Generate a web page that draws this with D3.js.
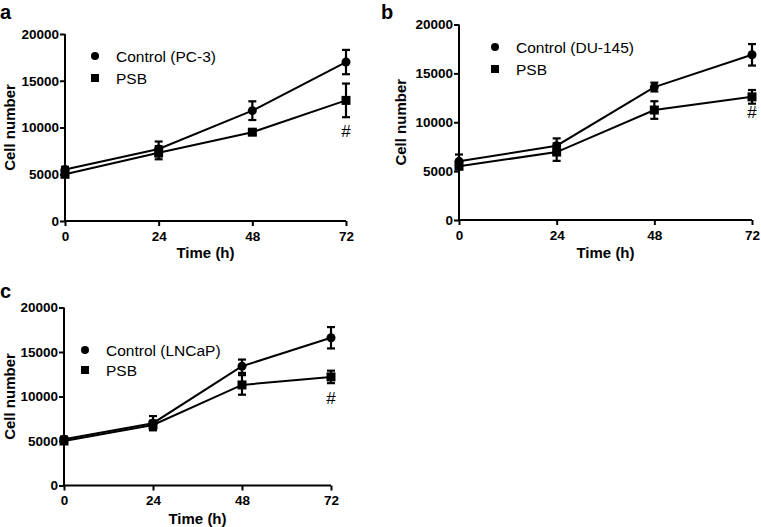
<!DOCTYPE html>
<html><head><meta charset="utf-8">
<script src="https://cdn.jsdelivr.net/npm/d3@7"></script>
<style>body{margin:0;background:#fff}svg{display:block}text{font-family:"Liberation Sans",Arial,sans-serif}</style>
</head><body><svg id="c" width="761" height="527"></svg>
<script>
const times = [0, 24, 48, 72];
const yTicks = [0, 5000, 10000, 15000, 20000];
const panelLetters = ["a", "b", "c"];
const controlLabels = ["Control (PC-3)", "Control (DU-145)", "Control (LNCaP)"];
const psbLabel = "PSB";
const controlMeans = [[5500, 7700, 11800, 17000], [6000, 7600, 13600, 16900], [5200, 7000, 13400, 16600]];
const controlErr = [[300, 800, 1000, 1300], [700, 750, 450, 1100], [300, 800, 750, 1200]];
const psbMeans = [[5000, 7300, 9500, 12900], [5500, 6950, 11250, 12600], [5000, 6800, 11300, 12200]];
const psbErr = [[300, 700, 300, 1800], [300, 900, 900, 700], [300, 500, 1100, 700]];

const layout = [
  {x0:65, x1:346, yTop:34, yBot:221, letter:[0,19], leg:[95,56,22], title:15, timeY:258, hashY:137},
  {x0:459, x1:752, yTop:24.5, yBot:220, letter:[381,19], leg:[495,47,22], title:406, timeY:258, hashY:118},
  {x0:64, x1:331, yTop:307.5, yBot:485.5, letter:[0,298], leg:[85,350,20], title:15, timeY:524, hashY:404}
];
const svg = d3.select("#c");
layout.forEach((L, i) => {
  const g = svg.append("g");
  const x = d3.scaleLinear().domain([0,72]).range([L.x0, L.x1]);
  const y = d3.scaleLinear().domain([0,20000]).range([L.yBot, L.yTop]);
  const xa = g.append("g").attr("transform", `translate(0,${L.yBot})`)
    .call(d3.axisBottom(x).tickValues(times).tickFormat(d3.format("d")).tickSize(5).tickPadding(5).tickSizeOuter(0));
  const ya = g.append("g").attr("transform", `translate(${L.x0},0)`)
    .call(d3.axisLeft(y).tickValues(yTicks).tickFormat(d3.format("d")).tickSize(5).tickPadding(1).tickSizeOuter(0));
  [xa, ya].forEach(a => {
    a.selectAll("path,line").attr("stroke","#000").attr("stroke-width",2);
    a.selectAll("text").attr("font-size",13.5).attr("font-weight","bold").attr("fill","#000");
  });
  ya.select("path").attr("d", `M0,${L.yBot+1}V${L.yTop}`);
  xa.select("path").attr("d", `M${L.x0-1},0H${L.x1}`);
  g.append("text").attr("x", L.letter[0]).attr("y", L.letter[1]).text(panelLetters[i])
    .attr("font-size", 20).attr("font-weight","bold");
  g.append("text").attr("transform", `translate(${L.title},${(L.yTop+L.yBot)/2}) rotate(-90)`)
    .attr("text-anchor","middle").attr("font-size",15).attr("font-weight","bold").text("Cell number");
  g.append("text").attr("x", (L.x0+L.x1)/2).attr("y", L.timeY).attr("text-anchor","middle")
    .attr("font-size",15).attr("font-weight","bold").text("Time (h)");
  const line = d3.line().x((d,j)=>x(times[j])).y(d=>y(d));
  const series = [[controlMeans[i], controlErr[i], "c"], [psbMeans[i], psbErr[i], "s"]];
  series.forEach(([m, e, t]) => {
    g.append("path").attr("d", line(m)).attr("fill","none").attr("stroke","#000").attr("stroke-width",2);
    m.forEach((v, j) => {
      const cx = x(times[j]);
      const eg = g.append("g").attr("stroke","#000").attr("stroke-width",2.2);
      eg.append("line").attr("x1",cx).attr("x2",cx).attr("y1",y(v-e[j])).attr("y2",y(v+e[j]));
      [v-e[j], v+e[j]].forEach(b => eg.append("line").attr("x1",cx-4).attr("x2",cx+4).attr("y1",y(b)).attr("y2",y(b)));
      if (t === "c") g.append("circle").attr("cx",cx).attr("cy",y(v)).attr("r",4.5).attr("fill","#000");
      else g.append("rect").attr("x",cx-4.5).attr("y",y(v)-4.5).attr("width",9).attr("height",9).attr("fill","#000");
    });
  });
  g.append("text").attr("x", x(72)).attr("y", L.hashY).attr("text-anchor","middle").attr("font-size",17).text("#");
  const [lx, ly, dy] = L.leg;
  g.append("circle").attr("cx",lx).attr("cy",ly).attr("r",4).attr("fill","#000");
  g.append("rect").attr("x",lx-4).attr("y",ly+dy-4).attr("width",8).attr("height",8).attr("fill","#000");
  g.append("text").attr("x",lx+21).attr("y",ly+5.5).attr("font-size",15.5).text(controlLabels[i]);
  g.append("text").attr("x",lx+21).attr("y",ly+dy+5.5).attr("font-size",15.5).text(psbLabel);
});
</script></body></html>
